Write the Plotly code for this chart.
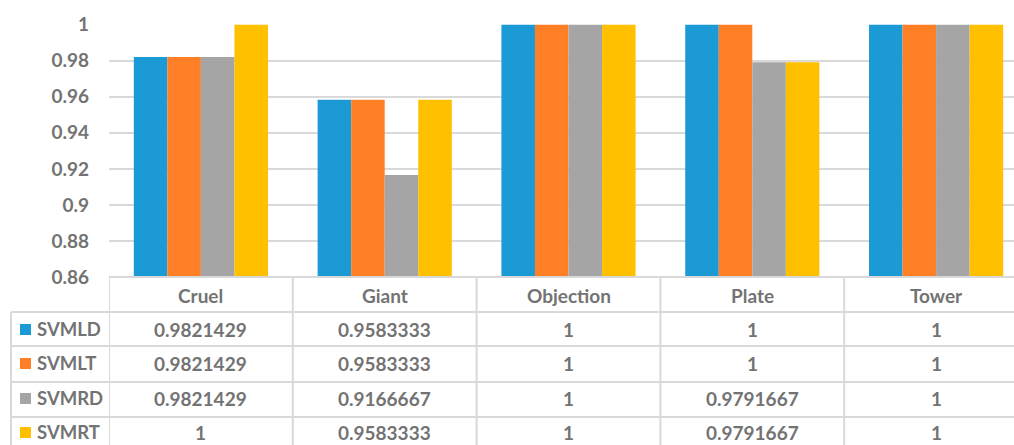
import plotly.graph_objects as go

# Data
categories = ["Cruel", "Giant", "Objection", "Plate", "Tower"]
series_names = ["SVMLD", "SVMLT", "SVMRD", "SVMRT"]
svmld = [0.9821429, 0.9583333, 1, 1, 1]
svmlt = [0.9821429, 0.9583333, 1, 1, 1]
svmrd = [0.9821429, 0.9166667, 1, 0.9791667, 1]
svmrt = [1, 0.9583333, 1, 0.9791667, 1]
y_ticks = [0.86, 0.88, 0.9, 0.92, 0.94, 0.96, 0.98, 1]
y_tick_text = ["0.86", "0.88", "0.9", "0.92", "0.94", "0.96", "0.98", "1"]

series_values = [svmld, svmlt, svmrd, svmrt]
colors = ["#1b9ad6", "#fe7f26", "#a5a5a5", "#ffc000"]

W, H = 1014, 445
L, T, B_PX = 109, 24, 277          # plot area pixel edges
FONT = "Lato"
TXT = "#737373"
GRID = "#d9d9d9"


def px(x):
    return (x - L) / (W - L)


def py(y):
    return (B_PX - y) / (B_PX - T)


fig = go.Figure()
for name, vals, col in zip(series_names, series_values, colors):
    fig.add_trace(go.Bar(
        x=categories, y=vals, name=name,
        marker=dict(color=col, line=dict(width=0)),
    ))

shapes = []
annotations = []

# table row boundaries (pixels)
row_lines = [277, 312, 346, 382, 417]
row_centers = [329, 363, 398, 432]

# horizontal lines of the data table
shapes.append(dict(type="line", xref="paper", yref="paper",
                   x0=px(L), x1=px(W + 5), y0=py(277), y1=py(277),
                   line=dict(color=GRID, width=2)))
for yl in row_lines[1:]:
    shapes.append(dict(type="line", xref="paper", yref="paper",
                       x0=px(11), x1=px(W + 5), y0=py(yl), y1=py(yl),
                       line=dict(color=GRID, width=2)))

# vertical lines at category boundaries
for i in range(len(categories)):
    shapes.append(dict(type="line", xref="x", yref="paper",
                       x0=i - 0.5, x1=i - 0.5, y0=py(277), y1=py(H + 5),
                       line=dict(color=GRID, width=2)))
# left edge of the legend column
shapes.append(dict(type="line", xref="paper", yref="paper",
                   x0=px(11), x1=px(11), y0=py(312), y1=py(H + 5),
                   line=dict(color=GRID, width=2)))

# header row: category names
for c in categories:
    annotations.append(dict(x=c, xref="x", y=py(295), yref="paper",
                            text=c, showarrow=False, xanchor="center", yanchor="middle",
                            font=dict(family=FONT, size=19, color=TXT, weight="bold")))


def fmt(v):
    return "1" if v == 1 else f"{v:.7f}"


# series rows: legend key, name and values
for name, vals, col, yc in zip(series_names, series_values, colors, row_centers):
    shapes.append(dict(type="rect", xref="paper", yref="paper",
                       x0=px(20), x1=px(31), y0=py(yc - 5), y1=py(yc + 6),
                       fillcolor=col, line=dict(width=0)))
    annotations.append(dict(x=px(35), xref="paper", y=py(yc), yref="paper",
                            text=name, showarrow=False, xanchor="left", yanchor="middle",
                            font=dict(family=FONT, size=18.5, color=TXT, weight="bold")))
    for c, v in zip(categories, vals):
        annotations.append(dict(x=c, xref="x", y=py(yc), yref="paper",
                                text=fmt(v), showarrow=False, xanchor="center", yanchor="middle",
                                font=dict(family=FONT, size=19, color=TXT, weight="bold")))

fig.update_layout(
    width=W, height=H,
    margin=dict(l=L, r=0, t=T, b=H - B_PX, pad=0),
    plot_bgcolor="white", paper_bgcolor="white",
    barmode="group", bargap=0.27, bargroupgap=0,
    showlegend=False,
    shapes=shapes, annotations=annotations,
    xaxis=dict(range=[-0.5, 4.5 - 14 / 183.75], showticklabels=False,
               showgrid=False, zeroline=False, showline=False, ticks=""),
    yaxis=dict(range=[0.86, 1.0004], tickvals=y_ticks, ticktext=y_tick_text,
               showgrid=True, gridcolor=GRID, gridwidth=2, zeroline=False,
               showline=False, ticks="", ticklabelstandoff=19,
               tickfont=dict(family=FONT, size=19, color=TXT, weight="bold")),
)

fig.write_html("out.html")
